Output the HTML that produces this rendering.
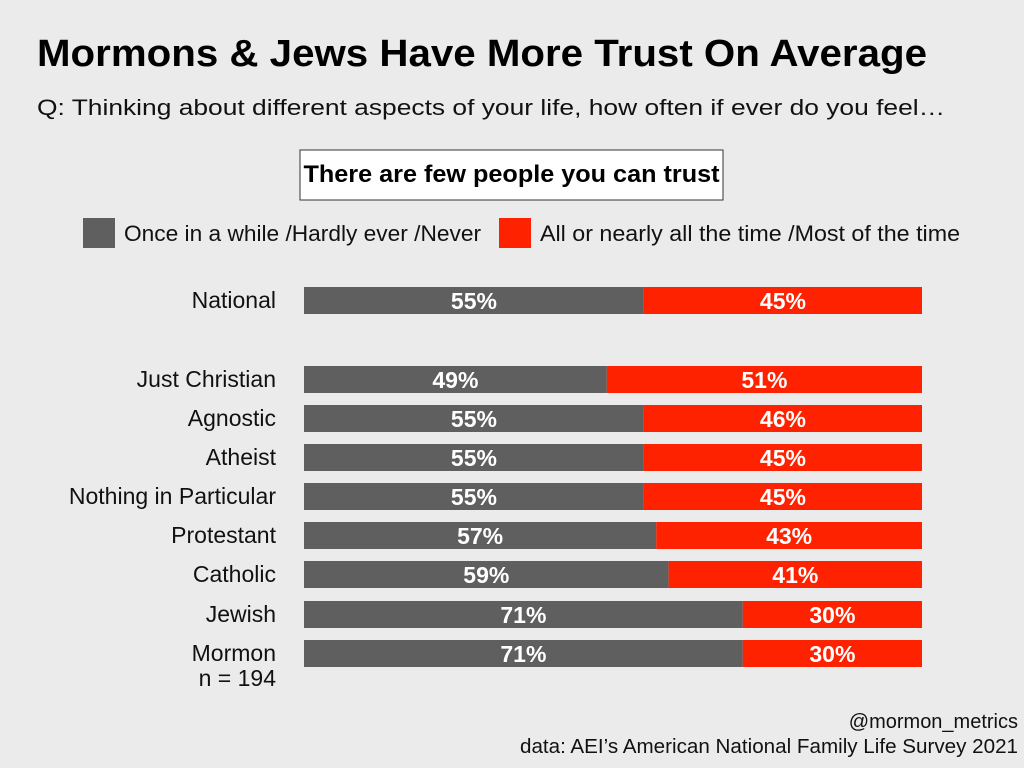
<!DOCTYPE html>
<html><head><meta charset="utf-8"><style>
html,body{margin:0;padding:0;background:#ebebeb;}
svg{display:block;font-family:"Liberation Sans","DejaVu Sans",sans-serif;}
</style></head><body>
<svg id="chart" width="1024" height="768" viewBox="0 0 1024 768">
<rect width="1024" height="768" fill="#ebebeb"/>
<text x="37" y="66" font-size="38" font-weight="bold" fill="#000" textLength="890" lengthAdjust="spacingAndGlyphs">Mormons &amp; Jews Have More Trust On Average</text>
<text x="37" y="115" font-size="22" fill="#111" textLength="908" lengthAdjust="spacingAndGlyphs">Q: Thinking about different aspects of your life, how often if ever do you feel…</text>
<rect x="300" y="150" width="423" height="50" fill="#fff" stroke="#333" stroke-width="1"/>
<text x="511.5" y="182" font-size="24" font-weight="bold" text-anchor="middle" textLength="416" lengthAdjust="spacingAndGlyphs">There are few people you can trust</text>
<rect x="83" y="218" width="32" height="30" fill="#5f5f5f"/>
<text x="124" y="241" font-size="22" fill="#111" textLength="357" lengthAdjust="spacingAndGlyphs">Once in a while /Hardly ever /Never</text>
<rect x="499" y="218" width="32" height="30" fill="#ff2200"/>
<text x="540" y="241" font-size="22" fill="#111" textLength="420" lengthAdjust="spacingAndGlyphs">All or nearly all the time /Most of the time</text>
<g id="bars"></g>
<text x="276" y="686" font-size="23" fill="#111" text-anchor="end">n = 194</text>
<text x="1018" y="728" font-size="20" fill="#111" text-anchor="end">@mormon_metrics</text>
<text x="1018" y="753" font-size="20" fill="#111" text-anchor="end" textLength="498" lengthAdjust="spacingAndGlyphs">data: AEI’s American National Family Life Survey 2021</text>
</svg>
<script>
const categories = ["National","Just Christian","Agnostic","Atheist","Nothing in Particular","Protestant","Catholic","Jewish","Mormon"];
const rarelyValues = [55,49,55,55,55,57,59,71,71];
const oftenValues = [45,51,46,45,45,43,41,30,30];
const rowTops = [287,366,405,444,483,522,561,601,640];

const x0 = 304, plotW = 618, barH = 27;
function xScale(v){ return x0 + v/100*plotW; }
const g = document.getElementById('bars');
const NS = "http://www.w3.org/2000/svg";
function mk(tag, attrs){ const e = document.createElementNS(NS, tag); for (const k in attrs) e.setAttribute(k, attrs[k]); return e; }
categories.forEach((c,i)=>{
  const y = rowTops[i];
  const xm = xScale(rarelyValues[i]);
  const xe = xScale(100);
  const lab = mk('text',{x:276,y:y+21,'font-size':23,fill:'#111','text-anchor':'end'});
  lab.textContent = c;
  
  
  g.appendChild(lab);
  const r1 = mk('rect',{x:x0,y:y,width:xm-x0,height:barH,fill:'#5f5f5f'});
  
  
  g.appendChild(r1);
  const r2 = mk('rect',{x:xm,y:y,width:xe-xm,height:barH,fill:'#ff2200'});
  
  
  g.appendChild(r2);
  const t1 = mk('text',{x:(x0+xm)/2,y:y+22,'font-size':23,'font-weight':'bold',fill:'#fff','text-anchor':'middle'});
  t1.textContent = rarelyValues[i]+'%';
  
  
  g.appendChild(t1);
  const t2 = mk('text',{x:(xm+xe)/2,y:y+22,'font-size':23,'font-weight':'bold',fill:'#fff','text-anchor':'middle'});
  t2.textContent = oftenValues[i]+'%';
  
  
  g.appendChild(t2);
});
</script>
</body></html>
